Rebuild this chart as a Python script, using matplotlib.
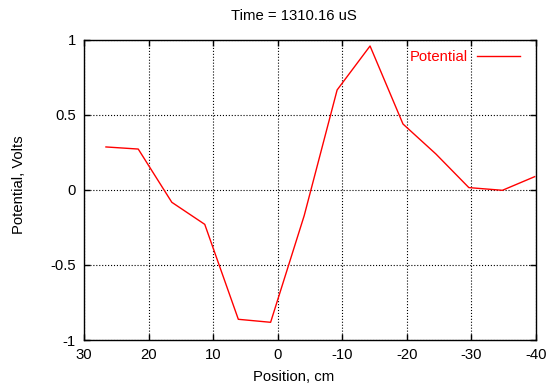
import matplotlib
matplotlib.use("Agg")
import matplotlib.pyplot as plt

plt.rcParams['font.family'] = ['Liberation Sans', 'DejaVu Sans']
plt.rcParams['font.size'] = 10.7

# data
position = [26.6, 21.6, 16.4, 11.3, 6.1, 1.1, -4.1, -9.2, -14.3, -19.4, -24.5, -29.6, -34.8, -39.8]
potential = [0.287, 0.273, -0.082, -0.229, -0.862, -0.882, -0.171, 0.667, 0.96, 0.44, 0.24, 0.016, -0.002, 0.089]
xticks = [30, 20, 10, 0, -10, -20, -30, -40]
yticks = [-1, -0.5, 0, 0.5, 1]
ytick_labels = ["-1", "-0.5", "0", "0.5", "1"]

fig = plt.figure(figsize=(5.54, 3.85), dpi=100)
ax = fig.add_axes([84 / 554, 1 - 340 / 385, 452 / 554, 300 / 385])

ax.plot(position, potential, '-', color='red', lw=1.0, label='Potential')

ax.set_xlim(30, -40)
ax.set_ylim(-1, 1)
ax.set_xticks(xticks)
ax.set_xticklabels([str(t) for t in xticks])
ax.set_yticks(yticks)
ax.set_yticklabels(ytick_labels)
ax.tick_params(direction='in', length=4, width=1, top=True, right=True,
               labelsize=10.7, pad=6)
ax.grid(True, linestyle=':', color='black', lw=0.8)
for s in ax.spines.values():
    s.set_linewidth(1.0)

leg = ax.legend(loc='upper right', bbox_to_anchor=(0.995, 1.012), frameon=False,
                markerfirst=False, handlelength=2.9, handletextpad=0.65,
                labelcolor='red', fontsize=10.7)

fig.text(294 / 554, 1 - 16 / 385, "Time = 1310.16 uS", ha='center', va='center')
fig.text(294 / 554, 1 - 377 / 385, "Position, cm", ha='center', va='center')
fig.text(19 / 554, 1 - 185 / 385, "Potential, Volts", ha='center', va='center',
         rotation=90)

fig.savefig("out.png", dpi=100)
